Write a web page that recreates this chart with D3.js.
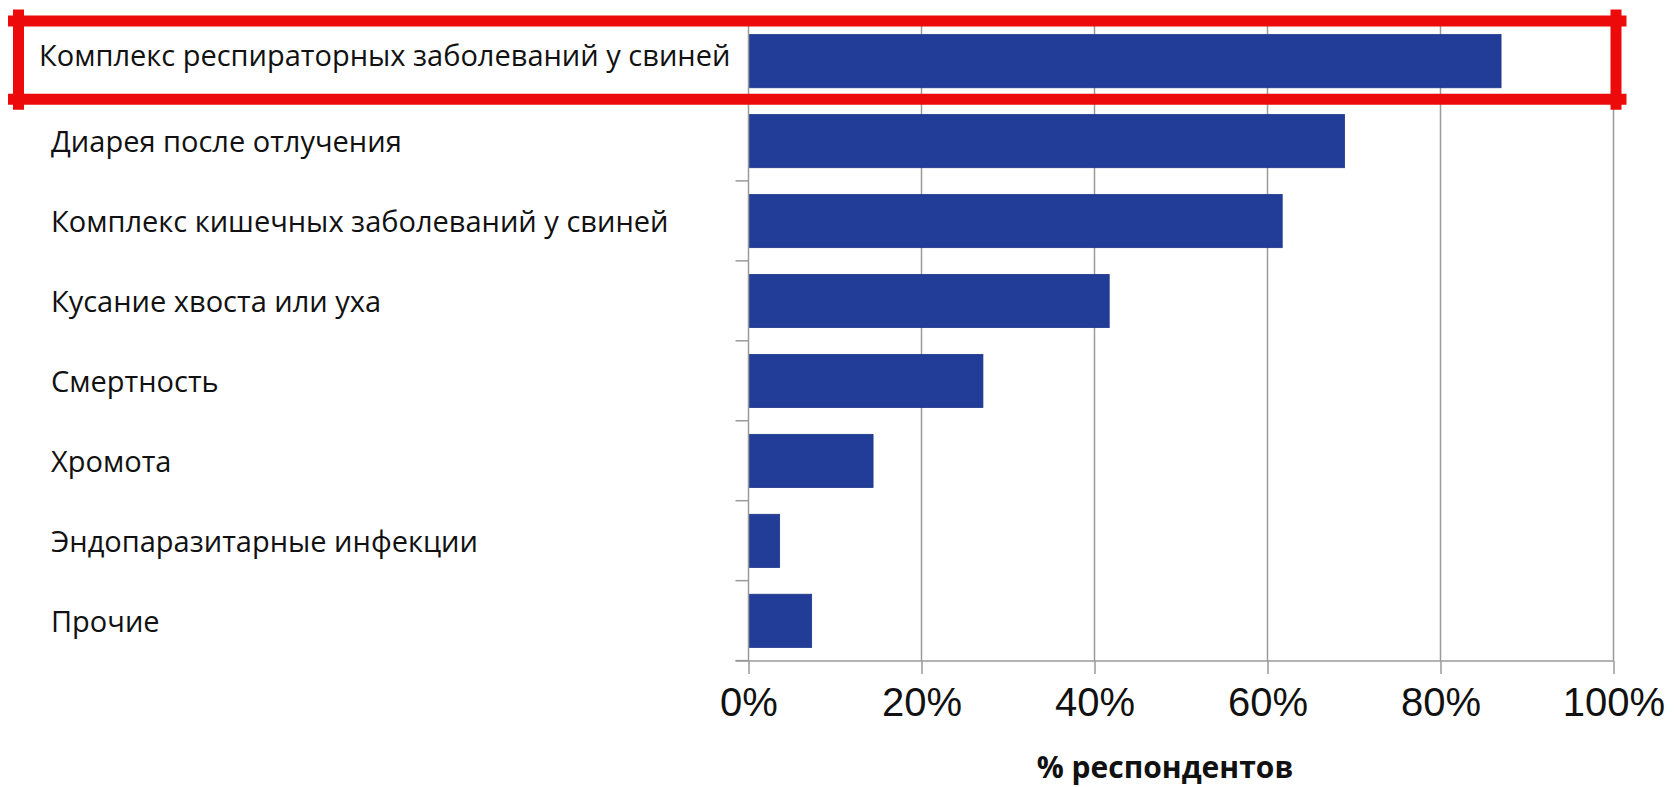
<!DOCTYPE html>
<html>
<head>
<meta charset="utf-8">
<script src="https://cdn.jsdelivr.net/npm/d3@7"></script>
<style>
  html, body { margin: 0; padding: 0; background: #ffffff; }
  svg { display: block; }
</style>
</head>
<body>
<svg id="chart" width="1676" height="787"></svg>
<script>
// ---- data ----
const categories = [
  "Комплекс респираторных заболеваний у свиней",
  "Диарея после отлучения",
  "Комплекс кишечных заболеваний у свиней",
  "Кусание хвоста или уха",
  "Смертность",
  "Хромота",
  "Эндопаразитарные инфекции",
  "Прочие"
];
const values = [87.0, 68.9, 61.7, 41.7, 27.1, 14.4, 3.6, 7.3];
const xTicks = [0, 20, 40, 60, 80, 100];
const xTickLabels = ["0%", "20%", "40%", "60%", "80%", "100%"];
const xTitle = "% респондентов";
const highlighted = [categories[0]];

// ---- layout ----
const W = 1676, H = 787;
const plot = { left: 748.5, right: 1613.5, top: 21, bottom: 661 };
const svg = d3.select("#chart");

const x = d3.scaleLinear().domain([0, 100]).range([plot.left, plot.right]);
const y = d3.scaleBand().domain(categories).range([plot.top, plot.bottom])
  .paddingInner(0.335).paddingOuter(0.17);

const gridColor = "#9a9a9a";

// vertical gridlines
svg.append("g").selectAll("line").data(xTicks.filter(d => d > 0)).join("line")
  .attr("x1", d => x(d)).attr("x2", d => x(d))
  .attr("y1", plot.top).attr("y2", plot.bottom)
  .attr("stroke", gridColor).attr("stroke-width", 1.5);

// bars
svg.append("g").selectAll("rect").data(values).join("rect")
  .attr("x", x(0))
  .attr("y", (d, i) => y(categories[i]))
  .attr("width", d => x(d) - x(0))
  .attr("height", y.bandwidth())
  .attr("fill", "#223d98")
  .attr("stroke", "#1d3588").attr("stroke-width", 0.8);

// x axis
const xAxis = d3.axisBottom(x).tickValues(xTicks)
  .tickFormat((d, i) => xTickLabels[i]).tickSize(13).tickPadding(14);
const gx = svg.append("g").attr("transform", `translate(0,${plot.bottom})`).call(xAxis);
gx.select(".domain").attr("stroke", gridColor).attr("stroke-width", 1.5)
  .attr("d", `M${x(0) - 13},0H${x(100)}`);
gx.selectAll(".tick line").attr("stroke", gridColor).attr("stroke-width", 1.5);
gx.selectAll(".tick text")
  .attr("fill", "#111").attr("font-family", "'Liberation Sans', Arial, sans-serif")
  .attr("font-size", 40).attr("dy", "0.71em");

// y axis (line + ticks between bands)
const gy = svg.append("g");
gy.append("line").attr("x1", x(0)).attr("x2", x(0))
  .attr("y1", plot.top).attr("y2", plot.bottom)
  .attr("stroke", gridColor).attr("stroke-width", 1.5);
const bounds = d3.range(1, categories.length + 1).map(i => plot.top + i * y.step());
gy.selectAll("line.tk").data(bounds).join("line").attr("class", "tk")
  .attr("x1", x(0) - 13).attr("x2", x(0))
  .attr("y1", d => d).attr("y2", d => d)
  .attr("stroke", gridColor).attr("stroke-width", 1.5);

// category labels
svg.append("g").selectAll("text").data(categories).join("text")
  .attr("x", d => highlighted.includes(d) ? 39 : 51)
  .attr("y", d => y(d) + y.bandwidth() / 2 + (highlighted.includes(d) ? 4.5 : 11))
  .attr("font-family", "'Open Sans', sans-serif")
  .attr("font-size", 29)
  .attr("fill", "#111")
  .text(d => d);

// x title
svg.append("text")
  .attr("x", (x(0) + x(100)) / 2 - 16)
  .attr("y", 778)
  .attr("text-anchor", "middle")
  .attr("font-family", "'Open Sans', sans-serif")
  .attr("font-weight", "bold")
  .attr("font-size", 30)
  .attr("fill", "#111")
  .text(xTitle);

// red highlight frame around first category
const hl = highlighted[0];
const fTop = y(hl) - 13.5, fBot = y(hl) + y.bandwidth() + 11.5;
const fLeft = 18.5, fRight = x(100) + 2.5;
const red = "#ec0a0a";
const frame = svg.append("g").attr("stroke", red).attr("stroke-width", 11).attr("fill", "none");
[[fLeft - 10.5, fTop, fRight + 10.5, fTop],
 [fLeft - 10.5, fBot, fRight + 10.5, fBot],
 [fLeft, fTop - 11.5, fLeft, fBot + 10.5],
 [fRight, fTop - 11.5, fRight, fBot + 10.5]].forEach(s => {
  frame.append("line").attr("x1", s[0]).attr("y1", s[1]).attr("x2", s[2]).attr("y2", s[3]);
});
</script>
</body>
</html>
